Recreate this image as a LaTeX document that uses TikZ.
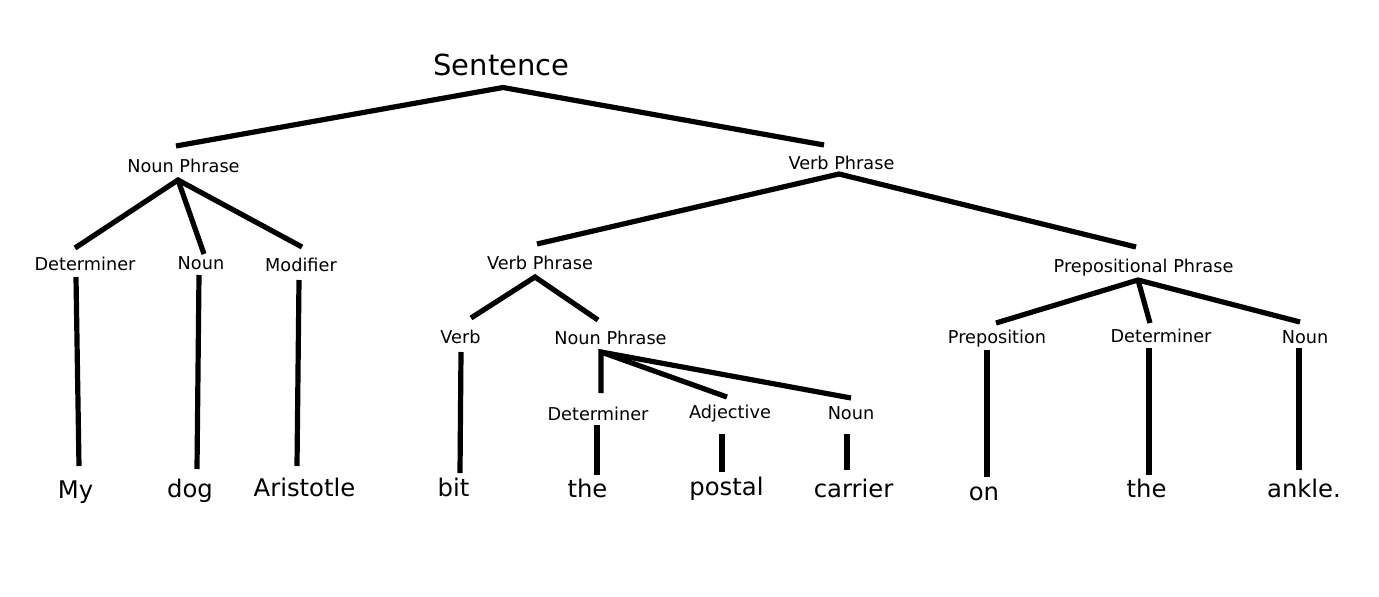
\documentclass[tikz,border=0pt]{standalone}
\usepackage{fontspec}
\setmainfont{DejaVu Sans}
\begin{document}
\begin{tikzpicture}[x=1pt,y=-1pt,
  lbl/.style={anchor=base,inner sep=0pt,font=\fontsize{17.7}{20}\selectfont},
  word/.style={anchor=base,inner sep=0pt,font=\fontsize{24.3}{28}\selectfont},
  top/.style={anchor=base,inner sep=0pt,font=\fontsize{29}{33}\selectfont},
  edge/.style={line width=5.2pt,line cap=butt,line join=miter,miter limit=3}]
\useasboundingbox[fill=white] (0,0) rectangle (1379,597);
% text nodes
\node[top]  (S)    at (501.5,75) {Sentence};
\node[lbl]  (NP1)  at (183.5,172) {Noun Phrase};
\node[lbl]  (VP1)  at (841.5,169) {Verb Phrase};
\node[lbl]  (Det1) at (85,270) {Determiner};
\node[lbl]  (N1)   at (201,269) {Noun};
\node[lbl]  (Mod1) at (301,271) {Modifier};
\node[lbl]  (VP2)  at (540,269) {Verb Phrase};
\node[lbl]  (PP)   at (1143.5,272) {Prepositional Phrase};
\node[lbl]  (V)    at (460.5,343) {Verb};
\node[lbl]  (NP2)  at (610.5,344) {Noun Phrase};
\node[lbl]  (Prep) at (997,343) {Preposition};
\node[lbl]  (Det3) at (1161,342) {Determiner};
\node[lbl]  (N4)   at (1305,343) {Noun};
\node[lbl]  (Det2) at (598,420) {Determiner};
\node[lbl]  (Adj)  at (730,418) {Adjective};
\node[lbl]  (N3)   at (851,419) {Noun};
\node[word] (wMy)  at (75.5,498) {My};
\node[word] (wdog) at (190,497) {dog};
\node[word] (wAr)  at (304.5,496) {Aristotle};
\node[word] (wbit) at (453.5,496) {bit};
\node[word] (wthe1) at (587.5,497) {the};
\node[word] (wpo)  at (726.5,495) {postal};
\node[word] (wca)  at (853.5,497) {carrier};
\node[word] (won)  at (984,500) {on};
\node[word] (wthe2) at (1146.5,497) {the};
\node[word] (wan)  at (1304,497) {ankle.};
% connector end points
\coordinate (S-a)    at (503,87.5);
\coordinate (NP1-t)  at (176,146);
\coordinate (VP1-t)  at (824,145);
\coordinate (NP1-a)  at (178,180);
\coordinate (Det1-t) at (75,248);
\coordinate (N1-t)   at (204,254);
\coordinate (Mod1-t) at (302,247);
\coordinate (Det1-b) at (76,277);
\coordinate (N1-b)   at (199,275);
\coordinate (Mod1-b) at (299,280);
\coordinate (My-t)   at (79,466);
\coordinate (dog-t)  at (197,469);
\coordinate (Ar-t)   at (297,466);
\coordinate (VP1-a)  at (839,174);
\coordinate (VP2-t)  at (537,244);
\coordinate (PP-t)   at (1136,247);
\coordinate (VP2-a)  at (535,277);
\coordinate (V-t)    at (471,318);
\coordinate (NP2-t)  at (598,320);
\coordinate (V-b)    at (461,352);
\coordinate (bit-t)  at (460,473);
\coordinate (NP2-a)  at (601,352);
\coordinate (Det2-t) at (601,393);
\coordinate (Adj-t)  at (727,397);
\coordinate (N3-t)   at (851,398);
\coordinate (Det2-b) at (597,425);
\coordinate (Adj-b)  at (722,434);
\coordinate (N3-b)   at (847,434);
\coordinate (the1-t) at (597,475);
\coordinate (po-t)   at (722,472);
\coordinate (ca-t)   at (847,470);
\coordinate (PP-a)   at (1138,280);
\coordinate (Prep-t) at (996,323);
\coordinate (Det3-t) at (1150,323);
\coordinate (N4-t)   at (1300,322);
\coordinate (Prep-b) at (987,350);
\coordinate (Det3-b) at (1149,348);
\coordinate (N4-b)   at (1299,348);
\coordinate (on-t)   at (987,477);
\coordinate (the2-t) at (1149,475);
\coordinate (an-t)   at (1299,470);
% connectors
\draw[edge] (NP1-t) -- (S-a) -- (VP1-t);
\draw[edge] (Det1-t) -- (NP1-a) -- (Mod1-t);
\draw[edge] (NP1-a) -- (N1-t);
\draw[edge] (Det1-b) -- (My-t);
\draw[edge] (N1-b) -- (dog-t);
\draw[edge] (Mod1-b) -- (Ar-t);
\draw[edge] (VP2-t) -- (VP1-a) -- (PP-t);
\draw[edge] (V-t) -- (VP2-a) -- (NP2-t);
\draw[edge] (V-b) -- (bit-t);
\draw[edge] (Det2-t) -- (NP2-a) -- (N3-t);
\draw[edge] (NP2-a) -- (Adj-t);
\draw[edge] (Det2-b) -- (the1-t);
\draw[edge] (Adj-b) -- (po-t);
\draw[edge] (N3-b) -- (ca-t);
\draw[edge] (Prep-t) -- (PP-a) -- (N4-t);
\draw[edge] (PP-a) -- (Det3-t);
\draw[edge] (Prep-b) -- (on-t);
\draw[edge] (Det3-b) -- (the2-t);
\draw[edge] (N4-b) -- (an-t);
\end{tikzpicture}
\end{document}
